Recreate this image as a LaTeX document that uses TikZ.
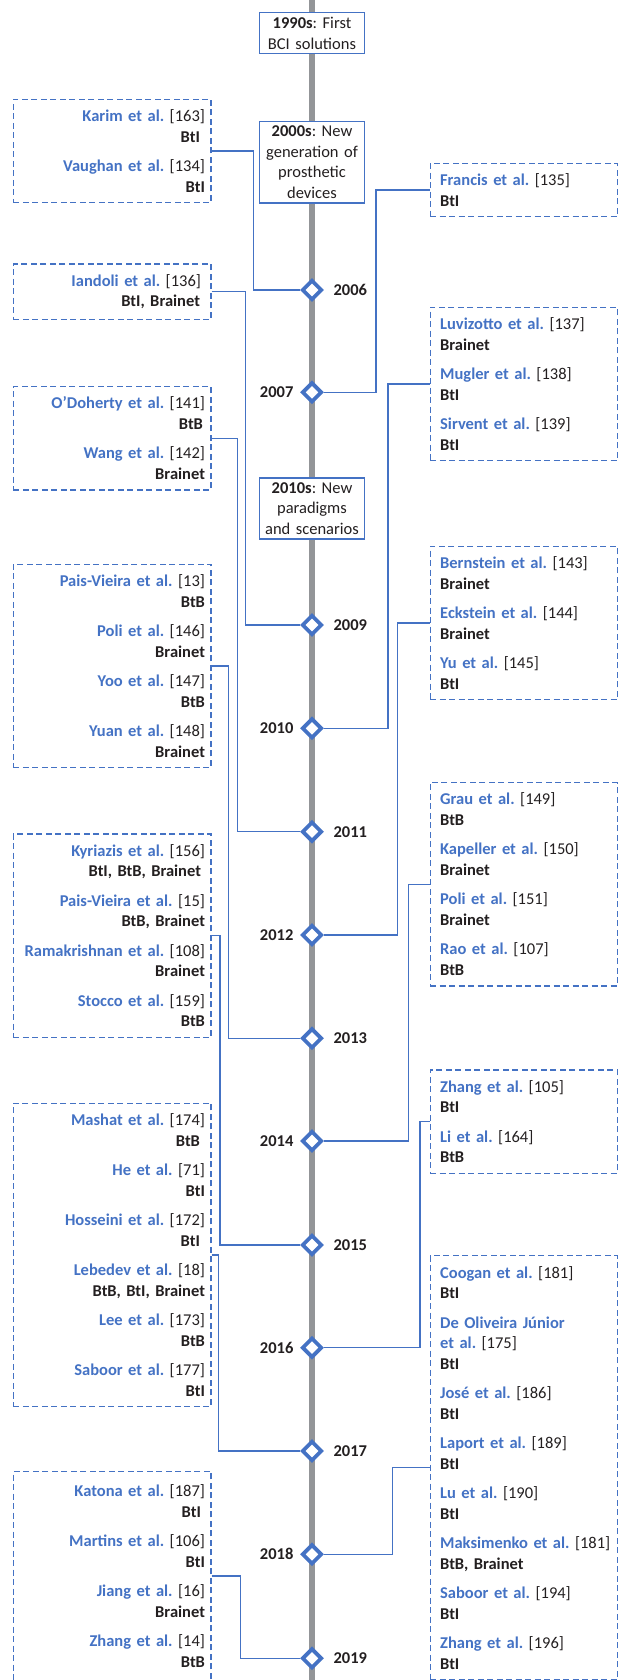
\documentclass[tikz,border=0pt]{standalone}
\usepackage{fontspec}
\setmainfont{Carlito}
\usetikzlibrary{positioning,shapes.geometric}
\definecolor{nblue}{HTML}{4472C4}
\definecolor{axisgray}{HTML}{939598}
\definecolor{inkdark}{HTML}{231F20}
\newcommand{\paper}[2]{\textcolor{nblue}{\bfseries #1}~[#2]}
\newcommand{\kind}[1]{\textbf{#1}}
\frenchspacing
\hyphenpenalty=10000

\begin{document}
\begin{tikzpicture}[x=1pt,y=-1pt,
    txt/.style={font=\fontsize{16.5pt}{20.5pt}\selectfont, text=inkdark},
    era/.style={txt, draw=nblue, line width=1.4pt, fill=white, align=center,
        text width=100pt, inner xsep=2.5pt, inner ysep=4.5pt, anchor=north},
    lbox/.style={txt, draw=nblue, line width=1.3pt, dash pattern=on 6pt off 3.5pt,
        align=right, text width=185.6pt, inner xsep=6pt, inner ysep=10.5pt, anchor=east},
    rbox/.style={txt, draw=nblue, line width=1.3pt, dash pattern=on 6pt off 3.5pt,
        align=left, text width=167pt, inner xsep=10pt, inner ysep=10.5pt, anchor=west},
    yr/.style={diamond, draw=nblue, line width=3.8pt, fill=white,
        minimum width=20pt, minimum height=20pt, inner sep=0pt},
    yrlabel/.style={txt, font=\fontsize{16.5pt}{20.5pt}\selectfont\bfseries, inner sep=0pt},
    link/.style={draw=nblue, line width=1.3pt}]
    \useasboundingbox (0,0) rectangle (619,1680);

    % time axis
    \coordinate (top) at (312,0);
    \coordinate (bottom) at (312,1680);
    \draw[axisgray, line width=5.5pt] (top) -- (bottom);

    % eras
    \node[era] (e1990) at (312,12) {\textbf{1990s}: First\\BCI solutions};
    \node[era] (e2000) at (312,120.7) {\textbf{2000s}: New\\generation of\\prosthetic\\devices};
    \node[era] (e2010) at (312,477.3) {\textbf{2010s}: New\\paradigms\\and scenarios};

    % years
    \foreach \yr/\ypos in {2006/290, 2009/625, 2011/831.7, 2013/1038.3, 2015/1245, 2017/1451, 2019/1658.3} {
        \node[yr] (d\yr) at (312,\ypos) {};
        \node[yrlabel, right=9.5pt of d\yr] (l\yr) {\yr};
    }
    \foreach \yr/\ypos in {2007/392.3, 2010/728.3, 2012/935, 2014/1141, 2016/1347.7, 2018/1554.3} {
        \node[yr] (d\yr) at (312,\ypos) {};
        \node[yrlabel, left=6.5pt of d\yr] (l\yr) {\yr};
    }

    % works, left side
    \node[lbox] (karim) at (211.6,151) {\paper{Karim et al.}{163}\\\kind{BtI}\kern5pt\\[9pt]
        \paper{Vaughan et al.}{134}\\\kind{BtI}};
    \node[lbox] (iandoli) at (211.6,291.7) {\paper{Iandoli et al.}{136}\kern4pt\\\kind{BtI, Brainet}\kern5pt};
    \node[lbox] (odoherty) at (211.6,438.3) {\paper{O’Doherty et al.}{141}\\\kind{BtB}\kern2pt\\[9pt]
        \paper{Wang et al.}{142}\\\kind{Brainet}};
    \node[lbox] (paisvieira) at (211.6,666) {\paper{Pais-Vieira et al.}{13}\\\kind{BtB}\\[9pt]
        \paper{Poli et al.}{146}\\\kind{Brainet}\\[9pt]
        \paper{Yoo et al.}{147}\\\kind{BtB}\\[9pt]
        \paper{Yuan et al.}{148}\\\kind{Brainet}};
    \node[lbox] (kyriazis) at (211.6,935.7) {\paper{Kyriazis et al.}{156}\\\kind{BtI, BtB, Brainet}\kern4pt\\[9pt]
        \paper{Pais-Vieira et al.}{15}\\\kind{BtB, Brainet}\\[9pt]
        \paper{Ramakrishnan et al.}{108}\\\kind{Brainet}\\[9pt]
        \paper{Stocco et al.}{159}\\\kind{BtB}};
    \node[lbox] (mashat) at (211.6,1255) {\paper{Mashat et al.}{174}\\\kind{BtB}\kern5pt\\[9pt]
        \paper{He et al.}{71}\\\kind{BtI}\\[9pt]
        \paper{Hosseini et al.}{172}\\\kind{BtI}\kern5pt\\[9pt]
        \paper{Lebedev et al.}{18}\\\kind{BtB, BtI, Brainet}\\[9pt]
        \paper{Lee et al.}{173}\\\kind{BtB}\\[9pt]
        \paper{Saboor et al.}{177}\\\kind{BtI}};
    \node[lbox, inner ysep=13.5pt] (katona) at (211.6,1576) {\paper{Katona et al.}{187}\\\kind{BtI}\kern4pt\\[9pt]
        \paper{Martins et al.}{106}\\\kind{BtI}\\[9pt]
        \paper{Jiang et al.}{16}\\\kind{Brainet}\\[9pt]
        \paper{Zhang et al.}{14}\\\kind{BtB}};

    % works, right side
    \node[rbox] (francis) at (429.5,190) {\paper{Francis et al.}{135}\\\kind{BtI}};
    \node[rbox] (luvizotto) at (429.5,384) {\paper{Luvizotto et al.}{137}\\\kind{Brainet}\\[9pt]
        \paper{Mugler et al.}{138}\\\kind{BtI}\\[9pt]
        \paper{Sirvent et al.}{139}\\\kind{BtI}};
    \node[rbox] (bernstein) at (429.5,623) {\paper{Bernstein et al.}{143}\\\kind{Brainet}\\[9pt]
        \paper{Eckstein et al.}{144}\\\kind{Brainet}\\[9pt]
        \paper{Yu et al.}{145}\\\kind{BtI}};
    \node[rbox] (grau) at (429.5,884.3) {\paper{Grau et al.}{149}\\\kind{BtB}\\[9pt]
        \paper{Kapeller et al.}{150}\\\kind{Brainet}\\[9pt]
        \paper{Poli et al.}{151}\\\kind{Brainet}\\[9pt]
        \paper{Rao et al.}{107}\\\kind{BtB}};
    \node[rbox] (zhang) at (429.5,1121.7) {\paper{Zhang et al.}{105}\\\kind{BtI}\\[9pt]
        \paper{Li et al.}{164}\\\kind{BtB}};
    \node[rbox] (coogan) at (429.5,1467.7) {\paper{Coogan et al.}{181}\\\kind{BtI}\\[9pt]
        \textcolor{nblue}{\bfseries De Oliveira Júnior}\\\paper{et al.}{175}\\\kind{BtI}\\[9pt]
        \paper{José et al.}{186}\\\kind{BtI}\\[9pt]
        \paper{Laport et al.}{189}\\\kind{BtI}\\[9pt]
        \paper{Lu et al.}{190}\\\kind{BtI}\\[9pt]
        \makebox[0pt][l]{\paper{Maksimenko et al.}{181}}\\\kind{BtB, Brainet}\\[9pt]
        \paper{Saboor et al.}{194}\\\kind{BtI}\\[9pt]
        \paper{Zhang et al.}{196}\\\kind{BtI}};

    % links to the years
    \draw[link] (karim.east) -- ++(41.6,0) |- (d2006);
    \draw[link] (francis.west) -- ++(-53.4,0) |- (d2007);
    \draw[link] (iandoli.east) -- ++(33.7,0) |- (d2009);
    \draw[link] (luvizotto.west) -- ++(-41.6,0) |- (d2010);
    \draw[link] (odoherty.east) -- ++(25.7,0) |- (d2011);
    \draw[link] (bernstein.west) -- ++(-32,0) |- (d2012);
    \draw[link] (paisvieira.east) -- ++(17,0) |- (d2013);
    \draw[link] (grau.west) -- ++(-21,0) |- (d2014);
    \draw[link] (kyriazis.east) -- ++(8.4,0) |- (d2015);
    \draw[link] (zhang.west) -- ++(-9.6,0) |- (d2016);
    \draw[link] (mashat.east) -- ++(7,0) |- (d2017);
    \draw[link] (coogan.west) -- ++(-37,0) |- (d2018);
    \draw[link] (katona.east) -- ++(29,0) |- (d2019);
\end{tikzpicture}
\end{document}
